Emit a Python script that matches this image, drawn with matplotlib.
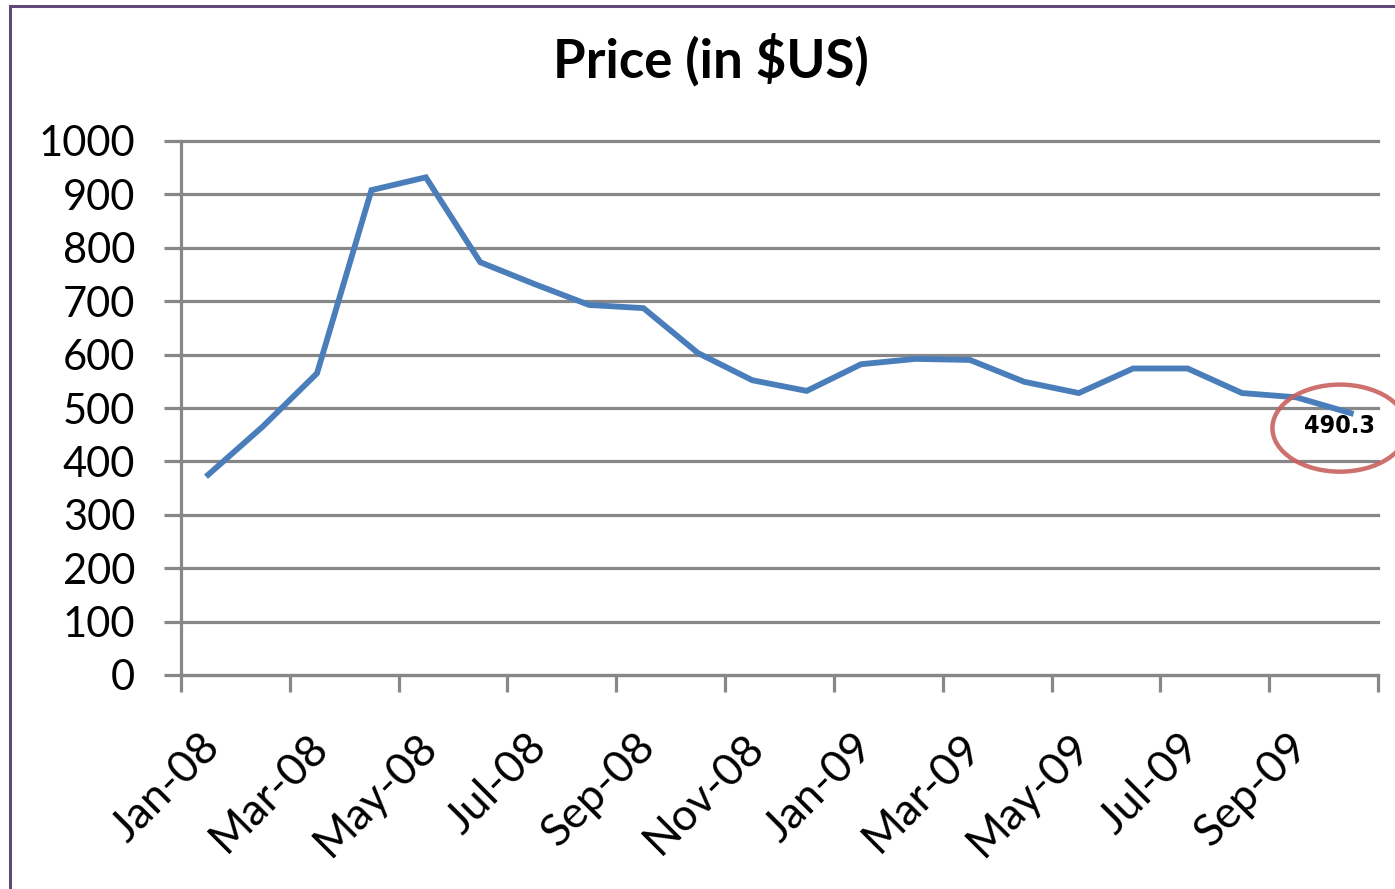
import matplotlib
matplotlib.use("Agg")
import matplotlib.pyplot as plt
from matplotlib.patches import Ellipse, Rectangle
from matplotlib.transforms import ScaledTranslation

# monthly prices, Jan-08 .. Oct-09
months = ["Jan-08", "Feb-08", "Mar-08", "Apr-08", "May-08", "Jun-08",
          "Jul-08", "Aug-08", "Sep-08", "Oct-08", "Nov-08", "Dec-08",
          "Jan-09", "Feb-09", "Mar-09", "Apr-09", "May-09", "Jun-09",
          "Jul-09", "Aug-09", "Sep-09", "Oct-09"]
prices = [375, 465, 565, 908, 932, 773, 732, 693, 687, 603, 552, 532,
          582, 592, 590, 549, 528, 574, 574, 528, 520, 490.3]
y_ticks = list(range(0, 1001, 100))

W, H = 1395, 889
plt.rcParams['font.family'] = ['Lato', 'DejaVu Sans']
grid_col = "#878787"

fig = plt.figure(figsize=(W / 100, H / 100), dpi=100)
ax = fig.add_axes([181 / W, 1 - 675 / H, (1378 - 181) / W, (675 - 141) / H])

x = list(range(len(months)))
ax.plot(x, prices, color="#4A7EBB", lw=4.2, solid_joinstyle="miter", zorder=3)

ax.set_xlim(-0.5, len(months) - 0.5)
ax.set_ylim(0, 1000)

# y axis
ax.set_yticks(y_ticks)
ax.set_yticklabels([str(v) for v in y_ticks], fontsize=30)
ax.yaxis.grid(True, color=grid_col, lw=2.3)
for gl in ax.get_ygridlines():
    gl.set_clip_on(False)
ax.tick_params(axis="y", length=12, width=2.3, color=grid_col, pad=21)

# x axis: ticks between every two months, labels on every other month
bounds = [i - 0.5 for i in range(0, len(months) + 1, 2)]
ax.set_xticks(bounds)
ax.set_xticklabels([])
ax.tick_params(axis="x", which="major", length=12, width=2.3, color=grid_col)
ax.set_xticks(x[::2], minor=True)
ax.set_xticklabels(months[::2], minor=True, rotation=45, ha="right",
                   va="center", rotation_mode="anchor", fontsize=32)
ax.tick_params(axis="x", which="minor", length=0, pad=47)
shift = ScaledTranslation(5 / 100, 0, fig.dpi_scale_trans)
for lbl in ax.get_xticklabels(minor=True):
    lbl.set_transform(lbl.get_transform() + shift)

for side in ["top", "right"]:
    ax.spines[side].set_visible(False)
for side in ["left", "bottom"]:
    ax.spines[side].set_color(grid_col)
    ax.spines[side].set_linewidth(2.3)

# last value callout
ax.annotate("490.3", (x[-1], prices[-1]), xytext=(-8, -9.5),
            textcoords="offset points", ha="center", va="center",
            fontsize=18, fontweight="bold", fontstretch="condensed",
            family=["DejaVu Sans"], zorder=5)
ax.add_patch(Ellipse((x[-1] - 0.2, prices[-1] - 28), width=2.48, height=163,
                     fill=False, edgecolor="#C9605D", alpha=0.9, lw=3.2,
                     clip_on=False, zorder=4))

fig.text(711 / W, 1 - 78 / H, "Price (in $US)", ha="center", va="baseline",
         fontsize=38, fontweight="bold")

# chart frame (only left and top edges fall inside the picture)
fig.add_artist(Rectangle((10 / W, -0.5), 2, (1 - 5.5 / H) + 0.5,
                         transform=fig.transFigure, fill=False,
                         edgecolor="#5F497A", lw=2.2))

fig.savefig("out.png", dpi=100)
